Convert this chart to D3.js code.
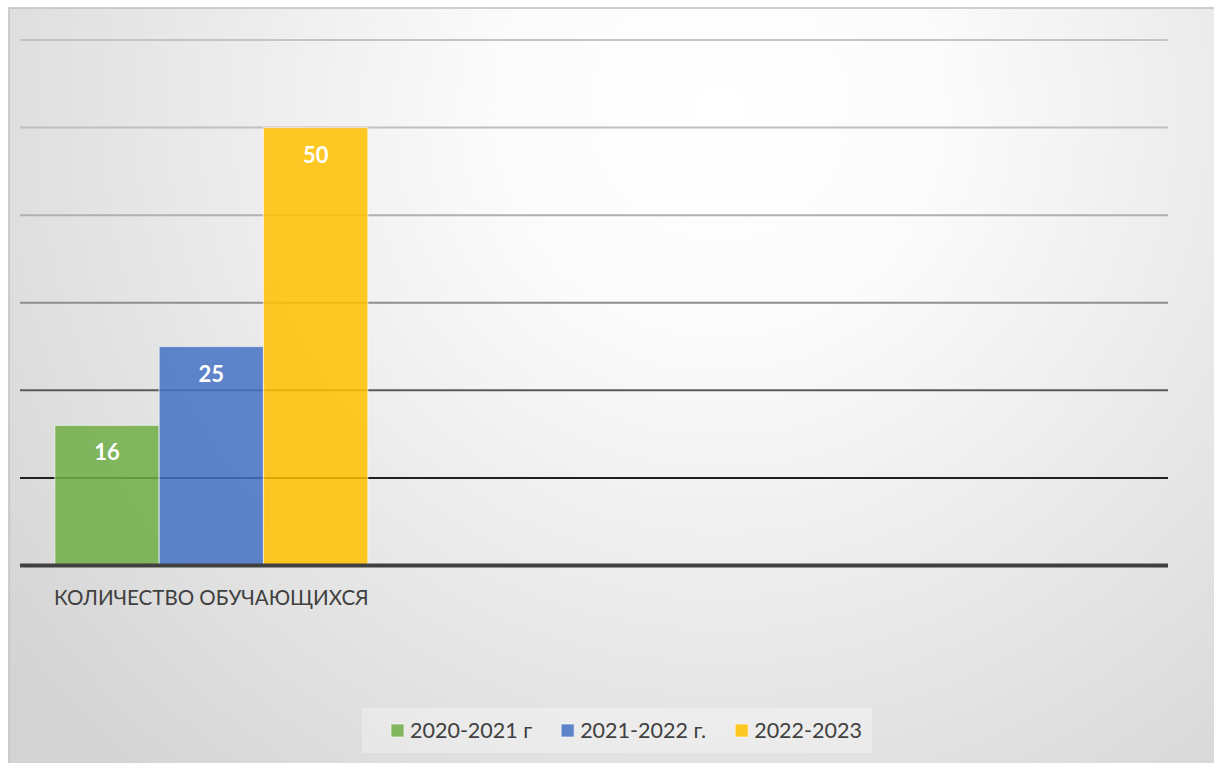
<!DOCTYPE html>
<html>
<head>
<meta charset="utf-8">
<script src="https://cdn.jsdelivr.net/npm/d3@7"></script>
<style>
  html, body { margin: 0; padding: 0; background: #ffffff; }
  svg { display: block; }
</style>
</head>
<body>
<div id="chart"></div>
<script>
// data
const categories = ['КОЛИЧЕСТВО ОБУЧАЮЩИХСЯ', '', ''];
const seriesNames = ['2020-2021 г', '2021-2022 г.', '2022-2023'];
const seriesValues = [[16], [25], [50]];
const seriesColors = ['#70ad47', '#4472c4', '#ffc000'];
const yTicks = [0, 10, 20, 30, 40, 50, 60];
const gridColors = ['#404040', '#202020', '#5a5a5a', '#8e8e8e', '#b0b0b0', '#c0c0c0', '#c4c4c4'];

const W = 1214, H = 763;
const fontFamily = 'Lato, "Open Sans", "Liberation Sans", sans-serif';

const svg = d3.select('#chart').append('svg')
    .attr('width', W).attr('height', H);

// radial background like the office style
const defs = svg.append('defs');
const grad = defs.append('radialGradient')
    .attr('id', 'bg').attr('gradientUnits', 'userSpaceOnUse')
    .attr('cx', 720).attr('cy', 110).attr('r', 900);
grad.append('stop').attr('offset', '0%').attr('stop-color', '#ffffff');
grad.append('stop').attr('offset', '25%').attr('stop-color', '#fbfbfb');
grad.append('stop').attr('offset', '100%').attr('stop-color', '#d4d4d4');

svg.append('rect')
    .attr('x', 9).attr('y', 8).attr('width', W + 10).attr('height', H + 10)
    .attr('fill', 'url(#bg)')
    .attr('stroke', '#c0c0c0').attr('stroke-width', 1.5);

// plot box
const plot = { left: 20, right: 1168, top: 40, bottom: 565.5 };

const y = d3.scaleLinear().domain([0, 60]).range([plot.bottom, plot.top]);
const x0 = d3.scaleBand().domain(d3.range(categories.length))
    .range([plot.left, plot.right]).paddingInner(0.182).paddingOuter(0.091);
const x1 = d3.scaleBand().domain(d3.range(seriesNames.length))
    .range([0, x0.bandwidth()]).padding(0);

// gridlines (baseline drawn after bars)
svg.append('g').selectAll('line')
    .data(yTicks.filter(t => t > 0))
    .join('line')
    .attr('x1', plot.left).attr('x2', plot.right)
    .attr('y1', d => y(d)).attr('y2', d => y(d))
    .attr('stroke', d => gridColors[yTicks.indexOf(d)])
    .attr('stroke-width', 2);

// bars
const barG = svg.append('g');
seriesNames.forEach((name, si) => {
    const vals = seriesValues[si];
    barG.selectAll('.bar-' + si)
        .data(vals.map((v, ci) => ({ v, ci })))
        .join('rect')
        .attr('x', d => x0(d.ci) + x1(si))
        .attr('y', d => y(d.v))
        .attr('width', x1.bandwidth())
        .attr('height', d => y(0) - y(d.v))
        .attr('fill', seriesColors[si])
        .attr('fill-opacity', 0.85)
        .attr('stroke', '#ffffff').attr('stroke-opacity', 0.55).attr('stroke-width', 1.2);

    barG.selectAll('.lab-' + si)
        .data(vals.map((v, ci) => ({ v, ci })))
        .join('text')
        .attr('x', d => x0(d.ci) + x1(si) + x1.bandwidth() / 2)
        .attr('y', d => y(d.v) + 35)
        .attr('text-anchor', 'middle')
        .attr('font-family', fontFamily)
        .attr('font-weight', 'bold')
        .attr('font-size', '22px')
        .attr('fill', '#ffffff')
        .text(d => d.v);
});

// baseline
svg.append('line')
    .attr('x1', plot.left).attr('x2', plot.right)
    .attr('y1', y(0)).attr('y2', y(0))
    .attr('stroke', gridColors[0]).attr('stroke-width', 4);

// category labels
svg.append('g').selectAll('text')
    .data(categories)
    .join('text')
    .attr('x', (d, i) => x0(i) + x0.bandwidth() / 2)
    .attr('y', 605)
    .attr('text-anchor', 'middle')
    .attr('font-family', fontFamily)
    .attr('font-size', '20.5px')
    .attr('fill', '#404040')
    .text(d => d);

// legend
const legend = svg.append('g');
legend.append('rect')
    .attr('x', 362).attr('y', 708).attr('width', 510).attr('height', 45)
    .attr('fill', '#ffffff').attr('fill-opacity', 0.3);

const items = legend.selectAll('g.item').data(seriesNames).join('g').attr('class', 'item');
items.append('rect')
    .attr('width', 13).attr('height', 13)
    .attr('fill', (d, i) => seriesColors[i]).attr('fill-opacity', 0.85)
    .attr('stroke', '#ffffff').attr('stroke-opacity', 0.6);
items.append('text')
    .attr('x', 19).attr('y', 14)
    .attr('font-family', fontFamily)
    .attr('font-size', '21.5px')
    .attr('fill', '#404040')
    .text(d => d);

let lx = 391;
items.each(function () {
    const g = d3.select(this);
    g.attr('transform', `translate(${lx},${724})`);
    const tw = g.select('text').node().getComputedTextLength();
    lx += 19 + tw + 29;
});
</script>
</body>
</html>
